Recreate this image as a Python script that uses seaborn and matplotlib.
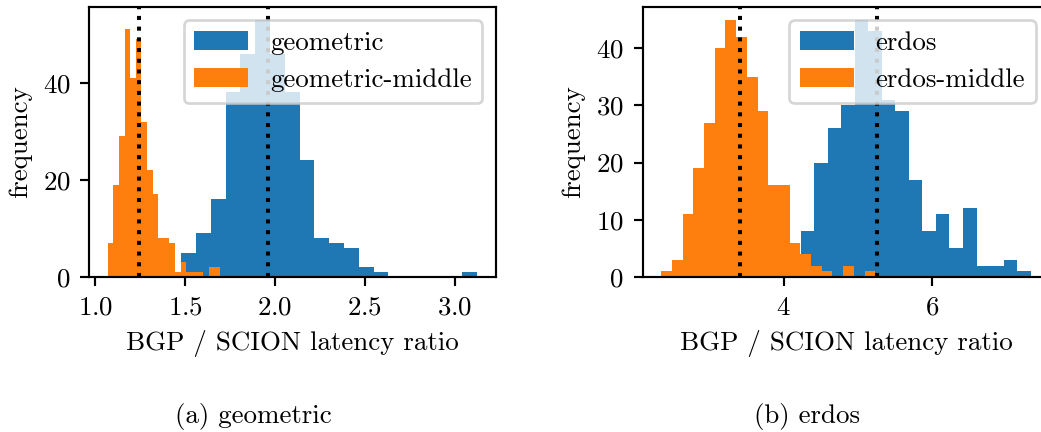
import numpy as np
import pandas as pd
import seaborn as sns
import matplotlib
matplotlib.use("Agg")
import matplotlib.pyplot as plt

# histogram counts (20 bins each)
geometric_range = (1.478, 3.126)
geometric_counts = [5, 9, 16, 38, 46, 53, 46, 38, 24, 8, 7, 6, 2, 1, 0, 0, 0, 0, 0, 1]
geometric_middle_range = (1.070, 1.694)
geometric_middle_counts = [7, 19, 29, 51, 41, 49, 32, 22, 17, 8, 8, 7, 1, 3, 1, 1, 1, 0, 2, 2]
geometric_means = [1.243, 1.959]

erdos_range = (3.682, 7.321)
erdos_counts = [1, 2, 4, 8, 20, 26, 30, 45, 43, 31, 29, 17, 8, 11, 5, 12, 2, 2, 3, 1]
erdos_middle_range = (2.353, 5.232)
erdos_middle_counts = [1, 3, 11, 19, 27, 40, 45, 42, 35, 29, 16, 16, 6, 4, 2, 1, 0, 2, 0, 1]
erdos_means = [3.411, 5.254]

panels = [
    ("geometric", geometric_range, geometric_counts,
     "geometric-middle", geometric_middle_range, geometric_middle_counts,
     geometric_means, "(a) geometric"),
    ("erdos", erdos_range, erdos_counts,
     "erdos-middle", erdos_middle_range, erdos_middle_counts,
     erdos_means, "(b) erdos"),
]

plt.rcParams["font.family"] = ["cmr10", "DejaVu Serif"]
plt.rcParams["mathtext.fontset"] = "cm"
plt.rcParams["axes.formatter.use_mathtext"] = True
plt.rcParams["font.size"] = 10

DPI = 194
W, H = 1041, 432
fig = plt.figure(figsize=(W / DPI, H / DPI), dpi=DPI)

# axes boxes in pixels: left, top, right, bottom
boxes = [(89.3, 6.7, 495.7, 277.0), (642.7, 6.7, 1049.1, 277.0)]
caption_x = [253, 807]


def weighted_hist(ax, rng, counts, color, label):
    n = len(counts)
    width = (rng[1] - rng[0]) / n
    df = pd.DataFrame({
        "x": rng[0] + width * (np.arange(n) + 0.5),
        "w": np.asarray(counts, dtype=float),
    })
    sns.histplot(data=df, x="x", weights="w", bins=n, binrange=rng, ax=ax,
                 color=color, alpha=1, linewidth=0, label=label)


for (name, rng, counts, mname, mrng, mcounts, means, caption), box, cx in zip(panels, boxes, caption_x):
    l, t, r, b = box
    ax = fig.add_axes([l / W, (H - b) / H, (r - l) / W, (b - t) / H])
    weighted_hist(ax, rng, counts, "#1f77b4", name)
    weighted_hist(ax, mrng, mcounts, "#ff7f0e", mname)
    for m in means:
        ax.axvline(m, color="black", linestyle=":", linewidth=1.5)
    ax.set_xlabel("BGP / SCION latency ratio")
    ax.set_ylabel("frequency")
    ax.legend(loc="upper right")
    fig.text(cx / W, (H - 416) / H, caption, ha="center", va="center")

fig.savefig("out.png", dpi=DPI)
